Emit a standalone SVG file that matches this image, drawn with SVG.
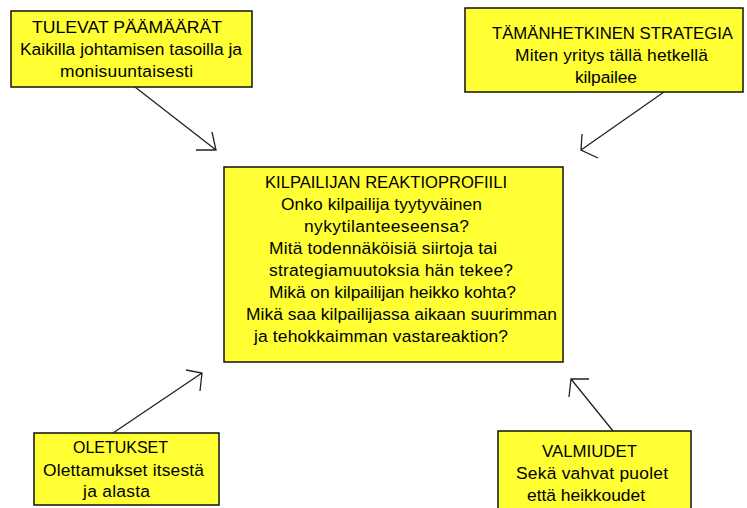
<svg xmlns="http://www.w3.org/2000/svg" width="747" height="508" viewBox="0 0 747 508">
<style>
.box{fill:#ffff33;stroke:#111;stroke-width:1.5}
text{font-family:"Liberation Sans",Arial,sans-serif;font-size:17.4px;fill:#000}
.h{font-size:17px}
.c{stroke:#222;stroke-width:1.3;fill:none}
</style>
<rect width="747" height="508" fill="#fff"/>
<g id="tulevat">
<rect class="box" x="11" y="11" width="241" height="76"/>
<text class="h" x="32" y="33" textLength="190" lengthAdjust="spacingAndGlyphs">TULEVAT PÄÄMÄÄRÄT</text>
<text x="20" y="55" textLength="222">Kaikilla johtamisen tasoilla ja</text>
<text x="60" y="77" textLength="133">monisuuntaisesti</text>
</g>
<g id="strategia">
<rect class="box" x="465" y="8" width="278" height="84"/>
<text class="h" x="492" y="39" textLength="241" lengthAdjust="spacingAndGlyphs">TÄMÄNHETKINEN STRATEGIA</text>
<text x="515" y="61" textLength="193">Miten yritys tällä hetkellä</text>
<text x="575" y="83" textLength="62">kilpailee</text>
</g>
<g id="profiili">
<rect class="box" x="224" y="167" width="339" height="195"/>
<text class="h" x="265" y="188" textLength="242" lengthAdjust="spacingAndGlyphs">KILPAILIJAN REAKTIOPROFIILI</text>
<text x="281" y="210" textLength="201">Onko kilpailija tyytyväinen</text>
<text x="304" y="232" textLength="165">nykytilanteeseensa?</text>
<text x="269" y="254" textLength="228">Mitä todennäköisiä siirtoja tai</text>
<text x="269" y="276" textLength="244">strategiamuutoksia hän tekee?</text>
<text x="269" y="298" textLength="247">Mikä on kilpailijan heikko kohta?</text>
<text x="246" y="320" textLength="311">Mikä saa kilpailijassa aikaan suurimman</text>
<text x="254" y="342" textLength="254">ja tehokkaimman vastareaktion?</text>
</g>
<g id="oletukset">
<rect class="box" x="34" y="433" width="185" height="72"/>
<text class="h" x="73" y="453" textLength="95" lengthAdjust="spacingAndGlyphs">OLETUKSET</text>
<text x="43" y="476" textLength="161">Olettamukset itsestä</text>
<text x="83" y="497" textLength="67">ja alasta</text>
</g>
<g id="valmiudet">
<rect class="box" x="498" y="431" width="193" height="90"/>
<text class="h" x="542" y="457" textLength="95" lengthAdjust="spacingAndGlyphs">VALMIUDET</text>
<text x="516" y="479" textLength="152">Sekä vahvat puolet</text>
<text x="527" y="501" textLength="118">että heikkoudet</text>
</g>
<g id="connectors">
<path class="c" d="M135,87 L216,150 M196,150 L216,150 L212,132"/>
<path class="c" d="M664,92 L581,150 M582,134 L581,150 L598,158"/>
<path class="c" d="M113,433 L202,373 M186,370 L202,373 L200,391"/>
<path class="c" d="M613,431 L571,379 M589,379 L571,379 L569,397"/>
</g>
</svg>
